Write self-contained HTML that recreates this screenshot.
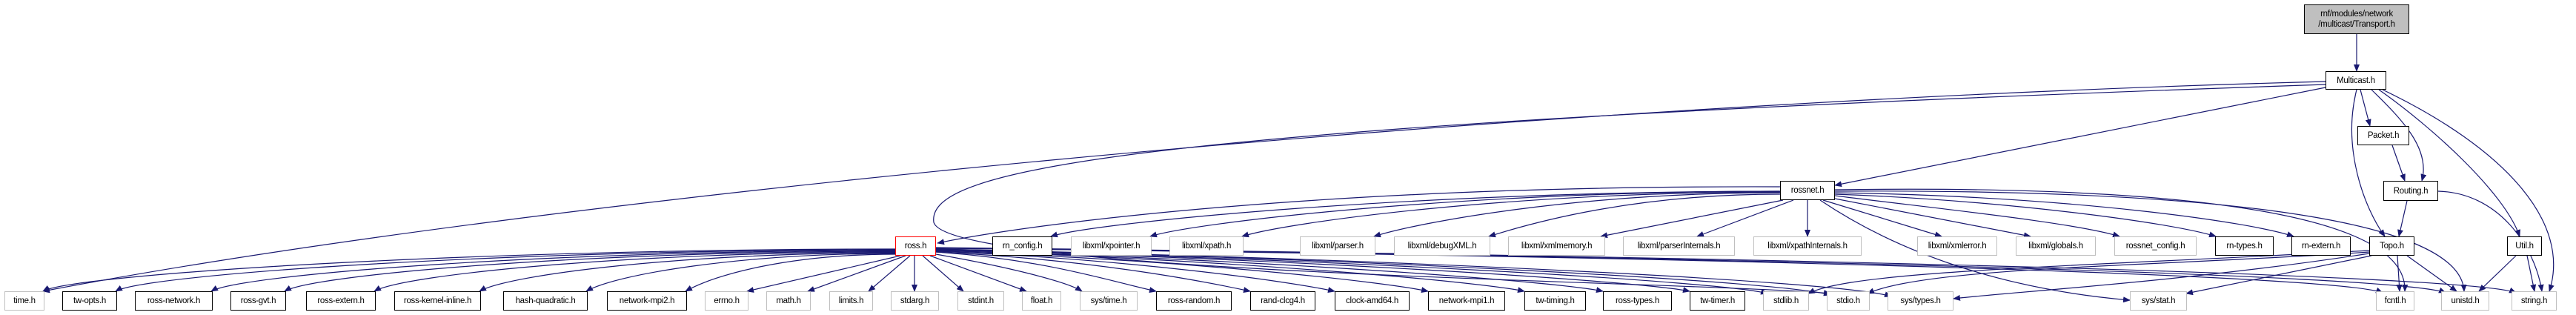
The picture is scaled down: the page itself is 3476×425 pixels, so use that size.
<!DOCTYPE html>
<html><head><meta charset="utf-8"><style>
html,body{margin:0;padding:0;background:#fff;}
#c{position:relative;width:3476px;height:425px;overflow:hidden;}
svg{position:absolute;left:0;top:0;}
.n{position:absolute;box-sizing:border-box;border:1px solid #000;background:#fff;font-family:"Liberation Sans",sans-serif;font-size:11.5px;color:#000;text-align:center;display:flex;align-items:center;justify-content:center;white-space:nowrap;letter-spacing:-0.3px;}
.g{border-color:#bfbfbf;}
.r{border-color:#ff0000;}
</style></head><body><div id="c">
<svg width="3476" height="425" viewBox="0 0 3476 425">
<defs><marker id="a" markerWidth="10" markerHeight="8" refX="9" refY="4" orient="auto" markerUnits="userSpaceOnUse"><path d="M0,0 L10,4 L0,8 z" fill="#191970"/></marker></defs>
<g fill="none" stroke="#191970" stroke-width="1.2" marker-end="url(#a)">
<path d="M3180 46 L3180 96"/>
<path d="M3185 121 L3198 170"/>
<path d="M3200 121 C3240 160 3280 200 3268 244"/>
<path d="M3180 121 C3160 200 3190 280 3218 319"/>
<path d="M3210 121 C3280 170 3380 260 3400 319"/>
<path d="M3215 121 C3380 200 3470 300 3440 393"/>
<path d="M3138 118 L2476 250"/>
<path d="M3138 110 C2000 140 700 270 58 393"/>
<path d="M3138 114 C1500 170 1250 230 1260 300 C1280 370 2300 380 2470 396"/>
<path d="M3228 196 L3245 244"/>
<path d="M3248 271 L3237 319"/>
<path d="M3290 258 C3370 260 3420 330 3430 393"/>
<path d="M3395 345 L3345 393"/>
<path d="M3410 345 L3420 393"/>
<path d="M3235 345 L3238 393"/>
<path d="M3248 345 L3315 393"/>
<path d="M3200 345 L2950 396"/>
<path d="M3197 342 C2950 380 2700 395 2636 403"/>
<path d="M3197 340 C2900 360 2600 360 2520 396"/>
<path d="M3197 338 C2800 360 2500 365 2440 396"/>
<path d="M2402 252 C1800 250 1400 300 1265 328"/>
<path d="M2402 258 C1910 258 1478 300 1418 319"/>
<path d="M2402 258 C1977 258 1612 300 1552 319"/>
<path d="M2402 259 C2039 259 1736 300 1676 319"/>
<path d="M2402 260 C2128 260 1914 300 1854 319"/>
<path d="M2402 262 C2205 262 2069 300 2009 319"/>
<path d="M2406 270 L2160 319"/>
<path d="M2420 270 L2290 319"/>
<path d="M2439 270 L2439 319"/>
<path d="M2460 270 L2620 319"/>
<path d="M2476 268 L2740 319"/>
<path d="M2476 264 C2600 280 2800 300 2860 319"/>
<path d="M2476 262 C2700 270 2930 300 2990 319"/>
<path d="M2476 260 C2800 265 3040 300 3095 319"/>
<path d="M2456 270 C2560 340 2700 390 2874 405"/>
<path d="M2476 256 C2900 250 3250 280 3245 393"/>
<path d="M2476 258 C2950 255 3320 290 3325 393"/>
<path d="M1208 336 C633 336 98 370 58 393"/>
<path d="M1208 337 C682 337 196 370 156 393"/>
<path d="M1208 338 C746 338 325 370 285 393"/>
<path d="M1208 339 C796 339 424 370 384 393"/>
<path d="M1208 340 C856 340 545 370 505 393"/>
<path d="M1208 341 C927 341 687 370 647 393"/>
<path d="M1208 342 C999 342 831 370 791 393"/>
<path d="M1208 343 C1066 343 965 370 925 393"/>
<path d="M1215 345 L1008 393"/>
<path d="M1222 345 L1090 393"/>
<path d="M1228 345 L1172 393"/>
<path d="M1234 345 L1234 393"/>
<path d="M1245 345 L1300 393"/>
<path d="M1255 345 L1385 393"/>
<path d="M1263 343 C1360 360 1440 380 1460 393"/>
<path d="M1263 340 C1411 350 1500 380 1560 393"/>
<path d="M1263 340 C1475 350 1627 380 1687 393"/>
<path d="M1263 339 C1532 350 1741 380 1801 393"/>
<path d="M1263 339 C1595 350 1867 380 1927 393"/>
<path d="M1263 338 C1660 350 1997 380 2057 393"/>
<path d="M1263 338 C1713 350 2103 380 2163 393"/>
<path d="M1263 337 C1771 350 2220 380 2280 393"/>
<path d="M1263 337 C1824 350 2325 380 2385 396"/>
<path d="M1263 336 C1866 350 2410 380 2470 398"/>
<path d="M1263 336 C1907 350 2492 380 2552 400"/>
<path d="M1263 335 C2239 345 3155 370 3215 395"/>
<path d="M1263 335 C2280 345 3240 370 3300 395"/>
<path d="M1263 334 C2320 345 3335 370 3395 395"/>
</g></svg>
<div class="n" style="left:3109px;top:6px;width:142px;height:40px;background:#bfbfbf;flex-direction:column;line-height:14px;">rnf/modules/network<br>/multicast/Transport.h</div>
<div class="n" style="left:3138px;top:96px;width:82px;height:25px;">Multicast.h</div>
<div class="n" style="left:3181px;top:170px;width:70px;height:26px;">Packet.h</div>
<div class="n" style="left:2402px;top:244px;width:74px;height:26px;">rossnet.h</div>
<div class="n" style="left:3216px;top:244px;width:74px;height:27px;">Routing.h</div>
<div class="n r" style="left:1208px;top:319px;width:55px;height:26px;">ross.h</div>
<div class="n" style="left:1339px;top:319px;width:81px;height:26px;">rn_config.h</div>
<div class="n g" style="left:1445px;top:319px;width:109px;height:26px;">libxml/xpointer.h</div>
<div class="n g" style="left:1578px;top:319px;width:100px;height:26px;">libxml/xpath.h</div>
<div class="n g" style="left:1754px;top:319px;width:102px;height:26px;">libxml/parser.h</div>
<div class="n g" style="left:1881px;top:319px;width:130px;height:26px;">libxml/debugXML.h</div>
<div class="n g" style="left:2035px;top:319px;width:131px;height:26px;">libxml/xmlmemory.h</div>
<div class="n g" style="left:2190px;top:319px;width:151px;height:26px;">libxml/parserInternals.h</div>
<div class="n g" style="left:2366px;top:319px;width:146px;height:26px;">libxml/xpathInternals.h</div>
<div class="n g" style="left:2587px;top:319px;width:108px;height:26px;">libxml/xmlerror.h</div>
<div class="n g" style="left:2720px;top:319px;width:108px;height:26px;">libxml/globals.h</div>
<div class="n g" style="left:2853px;top:319px;width:111px;height:26px;">rossnet_config.h</div>
<div class="n" style="left:2989px;top:319px;width:79px;height:26px;">rn-types.h</div>
<div class="n" style="left:3092px;top:319px;width:80px;height:26px;">rn-extern.h</div>
<div class="n" style="left:3197px;top:319px;width:61px;height:26px;">Topo.h</div>
<div class="n" style="left:3383px;top:319px;width:47px;height:26px;">Util.h</div>
<div class="n g" style="left:6px;top:393px;width:54px;height:26px;">time.h</div>
<div class="n" style="left:84px;top:393px;width:74px;height:26px;">tw-opts.h</div>
<div class="n" style="left:182px;top:393px;width:105px;height:26px;">ross-network.h</div>
<div class="n" style="left:311px;top:393px;width:75px;height:26px;">ross-gvt.h</div>
<div class="n" style="left:413px;top:393px;width:94px;height:26px;">ross-extern.h</div>
<div class="n" style="left:532px;top:393px;width:117px;height:26px;">ross-kernel-inline.h</div>
<div class="n" style="left:679px;top:393px;width:114px;height:26px;">hash-quadratic.h</div>
<div class="n" style="left:819px;top:393px;width:108px;height:26px;">network-mpi2.h</div>
<div class="n g" style="left:951px;top:393px;width:59px;height:26px;">errno.h</div>
<div class="n g" style="left:1034px;top:393px;width:60px;height:26px;">math.h</div>
<div class="n g" style="left:1119px;top:393px;width:59px;height:26px;">limits.h</div>
<div class="n g" style="left:1202px;top:393px;width:65px;height:26px;">stdarg.h</div>
<div class="n g" style="left:1292px;top:393px;width:63px;height:26px;">stdint.h</div>
<div class="n g" style="left:1379px;top:393px;width:53px;height:26px;">float.h</div>
<div class="n g" style="left:1457px;top:393px;width:78px;height:26px;">sys/time.h</div>
<div class="n" style="left:1560px;top:393px;width:102px;height:26px;">ross-random.h</div>
<div class="n" style="left:1687px;top:393px;width:88px;height:26px;">rand-clcg4.h</div>
<div class="n" style="left:1801px;top:393px;width:101px;height:26px;">clock-amd64.h</div>
<div class="n" style="left:1927px;top:393px;width:104px;height:26px;">network-mpi1.h</div>
<div class="n" style="left:2057px;top:393px;width:83px;height:26px;">tw-timing.h</div>
<div class="n" style="left:2163px;top:393px;width:93px;height:26px;">ross-types.h</div>
<div class="n" style="left:2280px;top:393px;width:75px;height:26px;">tw-timer.h</div>
<div class="n g" style="left:2379px;top:393px;width:62px;height:26px;">stdlib.h</div>
<div class="n g" style="left:2465px;top:393px;width:58px;height:26px;">stdio.h</div>
<div class="n g" style="left:2547px;top:393px;width:89px;height:26px;">sys/types.h</div>
<div class="n g" style="left:2874px;top:393px;width:77px;height:26px;">sys/stat.h</div>
<div class="n g" style="left:3206px;top:393px;width:52px;height:26px;">fcntl.h</div>
<div class="n g" style="left:3294px;top:393px;width:65px;height:26px;">unistd.h</div>
<div class="n g" style="left:3389px;top:393px;width:61px;height:26px;">string.h</div>
</div></body></html>
